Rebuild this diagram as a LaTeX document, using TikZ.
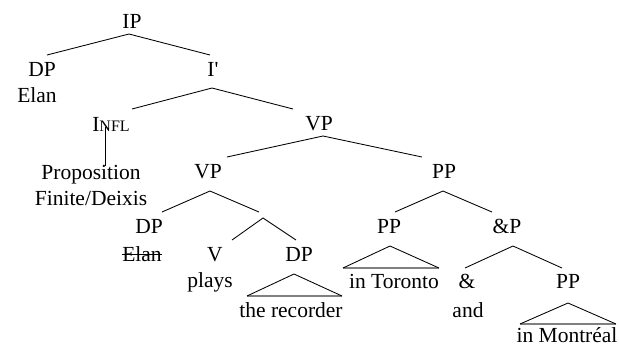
\documentclass[tikz,border=0pt]{standalone}
\usepackage{fontspec}
\setmainfont{Liberation Serif}
\newfontfamily\plainserif{Liberation Serif}[Ligatures=TeXOff]
\begin{document}
\begin{tikzpicture}[x=1pt,y=-1pt,
  lbl/.style={anchor=base,inner sep=0pt,font=\fontsize{21.5}{26}\selectfont},
  branch/.style={draw=black,line width=0.85pt},
  roof/.style={draw=black,line width=0.85pt,line join=miter},
  roofbase/.style={draw=black!50,line width=1.6pt}]
\useasboundingbox (0,0) rectangle (619,346);

% category labels and words
\node[lbl] (ip)    at (132,28)  {IP};
\node[lbl] (dp1)   at (42,76)   {DP};
\node[lbl] (elan1) at (37,102)  {Elan};
\node[lbl] (ibar)  at (213,76)  {\plainserif I'};
\node[lbl] (infl)  at (111,131) {I{\fontsize{16}{18}\selectfont NFL}};
\node[lbl] (vp1)   at (319,130) {VP};
\node[lbl] (prop)  at (91,179)  {Proposition};
\node[lbl] (fin)   at (91,205)  {Finite/Deixis};
\node[lbl] (vp2)   at (208,178) {VP};
\node[lbl] (pp1)   at (444,178) {PP};
\node[lbl] (dp2)   at (149,233) {DP};
\node[lbl] (elan2) at (142,261) {Elan};
\node[lbl] (v)     at (215,261) {V};
\node[lbl] (dp3)   at (299,261) {DP};
\node[lbl] (plays) at (210,287) {plays};
\node[lbl] (rec)   at (291,317) {the recorder};
\node[lbl] (pp2)   at (389,233) {PP};
\node[lbl] (andp)  at (507,233) {\&P};
\node[lbl] (tor)   at (394,288) {in Toronto};
\node[lbl] (amp)   at (467,288) {\&};
\node[lbl] (pp3)   at (568,288) {PP};
\node[lbl] (andw)  at (468,317) {and};
\node[lbl] (mon)   at (567,342) {in Montréal};

% struck-out copy of the subject
\draw[line width=0.8pt] ([yshift=7pt]elan2.base west) -- ([yshift=7pt]elan2.base east);

% branch end points
\coordinate (ip-b)   at (129,34);
\coordinate (dp1-t)  at (47,55);
\coordinate (ibar-t) at (210,55);
\coordinate (ibar-b) at (212,88);
\coordinate (infl-t) at (132,109);
\coordinate (vp1-t)  at (293,109);
\coordinate (infl-b) at (105,127);
\coordinate (prop-t) at (105,166);
\coordinate (vp1-b)  at (323,136);
\coordinate (vp2-t)  at (227,157);
\coordinate (pp1-t)  at (422,157);
\coordinate (vp2-b)  at (210,191);
\coordinate (dp2-t)  at (162,212);
\coordinate (vbar-t) at (259,212);
\coordinate (vbar)   at (263,218);
\coordinate (v-t)    at (232,240);
\coordinate (dp3-t)  at (296,240);
\coordinate (pp1-b)  at (443,191);
\coordinate (pp2-t)  at (395,212);
\coordinate (andp-t) at (492,212);
\coordinate (andp-b) at (513,246);
\coordinate (amp-t)  at (465,268);
\coordinate (pp3-t)  at (562,268);

% roofs over unanalysed phrases
\coordinate (dp3-apex) at (294,274);
\coordinate (dp3-l)    at (247,296);
\coordinate (dp3-r)    at (342,296);
\coordinate (pp2-apex) at (390,246);
\coordinate (pp2-l)    at (343,268);
\coordinate (pp2-r)    at (439,268);
\coordinate (pp3-apex) at (568,303);
\coordinate (pp3-l)    at (520,324);
\coordinate (pp3-r)    at (616,324);

% branches
\draw[branch] (dp1-t) -- (ip-b) -- (ibar-t);
\draw[branch] (infl-t) -- (ibar-b) -- (vp1-t);
\draw[branch] (infl-b) -- (prop-t);
\draw[branch] (vp2-t) -- (vp1-b) -- (pp1-t);
\draw[branch] (dp2-t) -- (vp2-b) -- (vbar-t);
\draw[branch] (v-t) -- (vbar) -- (dp3-t);
\draw[branch] (pp2-t) -- (pp1-b) -- (andp-t);
\draw[branch] (amp-t) -- (andp-b) -- (pp3-t);

% triangles
\foreach \r in {dp3,pp2,pp3}{
  \draw[roofbase] (\r-l) -- (\r-r);
  \draw[roof] (\r-l) -- (\r-apex) -- (\r-r);
}
\end{tikzpicture}
\end{document}
